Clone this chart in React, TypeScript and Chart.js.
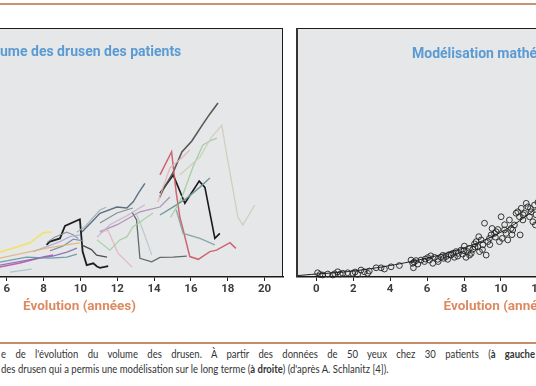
import React, { useEffect, useRef } from 'react';
import { Chart, registerables } from 'chart.js';

Chart.register(...registerables);

// ---------- data ----------
const X_MIN = -1.1;
const X_MAX = 21;
const Y_MIN = 0;
const Y_MAX = 10;
const xTickValues = [0, 2, 4, 6, 8, 10, 12, 14, 16, 18, 20];
const xTickLabels = ['0', '2', '4', '6', '8', '10', '12', '14', '16', '18', '20'];

const leftTitle = 'ume des drusen des patients';
const rightTitle = 'Modélisation mathématique';
const axisTitle = 'Évolution (années)';

type P = [number, number];

// patient trajectories (years, drusen volume in arbitrary units)
const pBlackA: P[] = [[8.16, 1.29], [8.34, 1.42], [8.89, 1.55], [9.16, 2.05], [9.97, 2.32], [10.12, 1.02], [10.34, 0.48], [10.7, 0.55], [10.9, 0.42], [11.06, 0.37], [11.51, 0.44]];
const pBlackB: P[] = [[14.32, 3.36], [15.04, 4.1], [15.67, 2.96], [16.45, 3.85], [16.76, 3.6], [17.3, 1.55], [17.57, 1.75]];
const pDarkGrey: P[] = [[14.3, 3.2], [14.48, 3.49], [15.02, 4.18], [15.51, 5.02], [16.05, 5.46], [16.65, 6.14], [17.03, 6.55], [17.47, 6.99]];
const pRed: P[] = [[14.32, 4.1], [14.95, 5.03], [15.2, 3.4], [15.4, 2.4], [15.58, 1.89], [15.94, 0.82], [16.4, 0.71], [17.03, 1.02], [17.39, 1.08], [18.12, 1.38], [18.44, 1.15]];
const pLightGreen: P[] = [[14.9, 2.4], [15.3, 2.9], [15.56, 3.3], [16.11, 4.42], [16.65, 5.3], [17.14, 5.5], [17.41, 5.58]];
const pBeige: P[] = [[15.4, 4.1], [16.49, 4.82], [17.1, 5.6], [17.68, 6.1], [17.9, 5.1], [18.55, 2.41], [18.82, 2.09], [19.47, 2.89]];
const pTealUp: P[] = [[14.32, 2.49], [15.0, 2.8], [15.78, 3.17], [16.49, 3.61], [17.03, 3.98]];
const pTealDown: P[] = [[15.2, 2.7], [15.58, 1.75], [16.49, 1.55], [17.3, 1.29]];
const pGreyL: P[] = [[12.8, 2.61], [13.05, 2.29], [13.23, 0.75], [13.87, 0.61], [14.32, 0.79], [15.02, 0.8], [15.78, 0.84]];
const pSlate: P[] = [[10.08, 1.81], [10.6, 2.2], [11.06, 2.56], [11.98, 2.81], [12.52, 2.77], [12.87, 3.02], [13.14, 3.36], [13.5, 3.76]];
const pDarkShort: P[] = [[10.06, 1.29], [10.6, 1.1], [10.88, 0.88], [11.44, 0.8]];
const pGreyMid: P[] = [[11.06, 2.17], [11.98, 2.57], [12.85, 2.77]];
const pPinkFall: P[] = [[11.06, 1.77], [11.49, 1.89], [12.04, 0.96], [12.8, 0.4]];
const pGreenMid: P[] = [[10.9, 1.49], [11.6, 1.08], [12.14, 1.49], [12.52, 1.61], [12.85, 2.01], [13.39, 2.29], [13.94, 2.57]];
const pBlueFall: P[] = [[13.0, 2.6], [13.39, 1.89], [13.88, 0.88]];
const pPurpleUp: P[] = [[11.06, 1.82], [12.0, 2.1], [13.23, 2.62], [14.32, 2.81], [14.86, 3.21]];
const pPinkUp: P[] = [[14.2, 3.0], [14.86, 4.38], [15.56, 4.82], [15.94, 5.1]];
const pYellow: P[] = [[4.5, 0.85], [5.63, 1.0], [6.34, 1.16], [7.26, 1.37], [7.69, 1.61], [7.96, 1.77], [8.45, 1.81]];
const pTan: P[] = [[4.5, 0.6], [5.63, 0.76], [8.17, 1.16], [9.25, 1.29], [9.97, 1.37]];
const pMagenta: P[] = [[4.5, 0.3], [5.63, 0.4], [6.72, 0.56], [7.98, 0.8], [8.52, 0.88]];
const pPurple: P[] = [[4.5, 0.4], [5.63, 0.48], [7.42, 0.72], [8.5, 0.84], [9.27, 1.0], [9.81, 1.16]];
const pLightBlue: P[] = [[6.17, 0.2], [7.35, 0.32]];
const pTeal: P[] = [[4.5, 0.5], [5.63, 0.6], [7.08, 0.8], [8.34, 0.76], [9.27, 0.8], [9.81, 0.92]];
const pLavender: P[] = [[7.44, 1.02], [8.17, 1.22], [8.89, 1.42], [9.43, 1.62], [9.97, 1.69]];
const pGreyNine: P[] = [[8.2, 1.4], [8.6, 1.6], [9.25, 1.8], [9.6, 1.7], [9.88, 1.55]];
const pBlueGrey: P[] = [[8.34, 1.05], [9.07, 1.25], [9.61, 1.52], [10.15, 1.45]];
const pLilac: P[] = [[10.9, 1.6], [11.6, 2.1], [12.5, 2.45], [13.5, 2.9]];
const pGreyBlue: P[] = [[9.8, 1.8], [10.24, 2.02], [11.06, 2.69], [11.4, 2.8]];

const patientSeries: { pts: P[]; color: string; w: number }[] = [
  { pts: pBeige, color: 'rgba(205,205,185,0.9)', w: 1.3 },
  { pts: pLightBlue, color: 'rgba(170,192,208,0.9)', w: 1.3 },
  { pts: pTan, color: 'rgba(226,178,112,0.85)', w: 1.3 },
  { pts: pYellow, color: 'rgba(240,226,110,0.95)', w: 1.8 },
  { pts: pTeal, color: 'rgba(100,150,165,0.9)', w: 1.3 },
  { pts: pPurple, color: 'rgba(130,110,175,0.9)', w: 1.3 },
  { pts: pMagenta, color: 'rgba(192,80,176,0.9)', w: 1.5 },
  { pts: pLavender, color: 'rgba(176,168,216,0.9)', w: 1.3 },
  { pts: pGreyNine, color: 'rgba(135,145,155,0.9)', w: 1.2 },
  { pts: pBlueGrey, color: 'rgba(115,140,165,0.9)', w: 1.2 },
  { pts: pLilac, color: 'rgba(200,176,208,0.9)', w: 1.2 },
  { pts: pGreyBlue, color: 'rgba(160,176,184,0.9)', w: 1.2 },
  { pts: pGreenMid, color: 'rgba(160,205,160,0.9)', w: 1.2 },
  { pts: pPinkFall, color: 'rgba(225,178,195,0.9)', w: 1.2 },
  { pts: pBlueFall, color: 'rgba(180,200,205,0.9)', w: 1.2 },
  { pts: pGreyMid, color: 'rgba(120,135,142,0.9)', w: 1.2 },
  { pts: pPurpleUp, color: 'rgba(170,140,175,0.9)', w: 1.3 },
  { pts: pSlate, color: 'rgba(85,105,125,0.95)', w: 1.4 },
  { pts: pDarkShort, color: 'rgba(70,70,70,0.95)', w: 1.3 },
  { pts: pGreyL, color: 'rgba(90,100,100,0.95)', w: 1.3 },
  { pts: pTealDown, color: 'rgba(130,165,162,0.95)', w: 1.3 },
  { pts: pTealUp, color: 'rgba(105,150,148,0.95)', w: 1.4 },
  { pts: pPinkUp, color: 'rgba(230,180,180,0.9)', w: 1.2 },
  { pts: pLightGreen, color: 'rgba(160,205,160,0.95)', w: 1.3 },
  { pts: pRed, color: 'rgba(205,85,100,0.9)', w: 1.5 },
  { pts: pDarkGrey, color: 'rgba(80,80,80,0.95)', w: 1.6 },
  { pts: pBlackA, color: 'rgba(30,30,30,1)', w: 1.8 },
  { pts: pBlackB, color: 'rgba(25,25,25,1)', w: 1.6 },
];

// modelled observations (right panel)
const obsX = [
  0.07, 0.35, 0.62, 0.89, 1.16, 1.43, 1.7, 1.97, 2.24, 2.42, 2.6, 2.78, 2.87, 3.24, 3.51, 3.69, 4.05, 4.5,
  5.13, 5.22, 5.26, 5.4, 5.67, 5.86, 6.04, 6.13, 6.31, 6.4, 6.58, 6.76, 6.85, 7.03, 7.12, 7.3, 7.39, 7.48,
  7.57, 7.66, 7.84, 7.93, 8.02, 8.11, 8.2, 8.29, 8.39, 8.48, 8.57, 8.66, 8.75, 8.8, 8.84, 8.93, 9.02, 9.11,
  9.2, 9.29, 9.38, 9.47, 9.52, 9.65, 9.74, 9.83, 9.92, 10.01, 10.07, 10.19, 10.28, 10.37, 10.46, 10.55, 10.64,
  10.73, 10.82, 10.91, 11.0, 11.04, 11.1, 11.19, 11.28, 11.37, 11.46, 11.55, 11.64, 11.73, 11.82, 11.87,
  5.3, 5.5, 5.9, 6.2, 6.6, 6.9, 7.2, 7.7, 8.0, 8.3, 8.6, 9.0, 9.4, 9.7, 10.2, 10.6, 11.2, 11.6, 11.9, 12.0, 12.2,
  0.2, 1.0, 1.3, 2.1,
];
const obsY = [
  0.17, 0.08, 0.12, 0.08, 0.21, 0.15, 0.17, 0.15, 0.11, 0.28, 0.21, 0.15, 0.24, 0.37, 0.37, 0.32, 0.41, 0.46,
  0.68, 0.55, 0.37, 0.66, 0.68, 0.62, 0.78, 0.68, 0.55, 0.79, 0.71, 0.79, 0.87, 0.82, 0.71, 0.88, 0.95, 0.79,
  1.02, 0.84, 1.08, 0.92, 1.24, 0.79, 1.02, 1.15, 0.95, 1.11, 1.33, 1.42, 1.22, 1.62, 1.02, 1.49, 1.29, 2.16,
  0.88, 1.42, 1.55, 1.69, 1.95, 1.75, 1.82, 1.91, 1.42, 2.42, 1.55, 1.89, 1.75, 1.49, 2.29, 1.95, 1.89,
  2.09, 2.56, 2.62, 2.42, 1.69, 2.76, 2.29, 2.56, 2.96, 2.82, 2.42, 2.62, 2.22, 2.89, 2.09,
  0.6, 0.52, 0.72, 0.85, 0.62, 0.75, 0.9, 0.95, 1.05, 0.88, 1.2, 1.1, 1.3, 1.6, 2.1, 1.7, 2.5, 2.75, 2.5, 3.0, 2.7,
  0.1, 0.13, 0.12, 0.2,
];
// fitted model curve
const modelX = [-1.1, 0, 1, 2, 3, 4, 5, 6, 7, 8, 9, 10, 11, 12, 13];
const modelY = [0.05, 0.12, 0.17, 0.24, 0.34, 0.46, 0.6, 0.76, 0.95, 1.17, 1.45, 1.8, 2.25, 2.8, 3.4];

// ---------- helpers ----------
const GREY = '#e6e7e8';

function makePanelPlugin(sides: { top?: boolean; right?: boolean; left?: boolean }) {
  return {
    id: 'panelBox',
    beforeDraw(chart: any) {
      const { ctx, chartArea: a } = chart;
      ctx.save();
      ctx.fillStyle = GREY;
      ctx.fillRect(a.left, a.top, a.right - a.left, a.bottom - a.top);
      ctx.restore();
    },
    afterDraw(chart: any) {
      const { ctx, chartArea: a } = chart;
      ctx.save();
      ctx.strokeStyle = '#1c1c1c';
      if (sides.top) {
        ctx.lineWidth = 1;
        ctx.beginPath();
        ctx.moveTo(a.left, a.top + 0.5);
        ctx.lineTo(a.right, a.top + 0.5);
        ctx.stroke();
      }
      if (sides.right) {
        ctx.lineWidth = 1;
        ctx.beginPath();
        ctx.moveTo(a.right - 0.5, a.top);
        ctx.lineTo(a.right - 0.5, a.bottom);
        ctx.stroke();
      }
      if (sides.left) {
        ctx.strokeStyle = '#333';
        ctx.lineWidth = 2;
        ctx.beginPath();
        ctx.moveTo(a.left + 1, a.top);
        ctx.lineTo(a.left + 1, a.bottom);
        ctx.stroke();
      }
      ctx.restore();
    },
  };
}

function xScale() {
  return {
    type: 'linear',
    min: X_MIN,
    max: X_MAX,
    afterBuildTicks: (s: any) => {
      s.ticks = xTickValues.map((v) => ({ value: v }));
    },
    afterFit: (s: any) => {
      s.height = 46;
    },
    grid: { drawOnChartArea: false, drawTicks: true, tickLength: 4, color: '#222', lineWidth: 1 },
    border: { display: true, color: '#1a1a1a', width: 1.5 },
    ticks: {
      padding: 1,
      color: '#3d3d3d',
      maxRotation: 0,
      autoSkip: false,
      font: { family: 'Roboto', weight: 'bold', size: 11.5 },
      callback: (v: number) => {
        const i = xTickValues.indexOf(v);
        return i >= 0 ? xTickLabels[i] : '';
      },
    },
    title: {
      display: true,
      text: axisTitle,
      color: '#dc8a62',
      font: { family: 'Roboto', weight: 'bold', size: 13.5 },
      padding: { top: 0, bottom: 8 },
    },
  };
}

const yScale = { type: 'linear', display: false, min: Y_MIN, max: Y_MAX };

function ChartCanvas({ build, left, top, width, height }: any) {
  const ref = useRef<HTMLCanvasElement>(null);
  useEffect(() => {
    const chart = new Chart(ref.current as HTMLCanvasElement, build());
    return () => chart.destroy();
  }, []);
  return (
    <canvas
      ref={ref}
      width={width}
      height={height}
      style={{ position: 'absolute', left, top, width, height, display: 'block' }}
    />
  );
}

function buildLeft() {
  return {
    type: 'line',
    data: {
      datasets: patientSeries.map((s) => ({
        data: s.pts.map(([x, y]) => ({ x, y })),
        borderColor: s.color,
        borderWidth: s.w,
        pointRadius: 0,
        tension: 0,
        fill: false,
      })),
    },
    options: {
      responsive: false,
      animation: false,
      devicePixelRatio: 1,
      layout: { autoPadding: false, padding: { left: 0, right: 1, top: 0, bottom: 0 } },
      plugins: { legend: { display: false }, tooltip: { enabled: false }, title: { display: false } },
      scales: { x: xScale(), y: yScale },
    },
    plugins: [makePanelPlugin({ top: true, right: true })],
  } as any;
}

function buildRight() {
  return {
    type: 'scatter',
    data: {
      datasets: [
        {
          type: 'line',
          data: modelX.map((x, i) => ({ x, y: modelY[i] })),
          borderColor: '#222',
          borderWidth: 1,
          pointRadius: 0,
          tension: 0.3,
          fill: false,
        },
        {
          type: 'scatter',
          data: obsX.map((x, i) => ({ x, y: obsY[i] })),
          pointStyle: 'circle',
          pointRadius: 2.9,
          borderColor: 'rgba(35,35,35,0.9)',
          borderWidth: 1,
          backgroundColor: 'rgba(0,0,0,0)',
          clip: false,
        },
      ],
    },
    options: {
      responsive: false,
      animation: false,
      devicePixelRatio: 1,
      layout: { autoPadding: false, padding: { left: 0, right: 11, top: 0, bottom: 0 } },
      plugins: { legend: { display: false }, tooltip: { enabled: false }, title: { display: false } },
      scales: { x: xScale(), y: yScale },
    },
    plugins: [makePanelPlugin({ top: true, left: true })],
  } as any;
}

export default function App() {
  const titleStyle: React.CSSProperties = {
    position: 'absolute',
    fontFamily: 'Roboto, sans-serif',
    fontWeight: 700,
    fontSize: 14,
    lineHeight: '16px',
    color: '#5b9bd3',
    whiteSpace: 'nowrap',
  };
  const capStyle: React.CSSProperties = {
    position: 'absolute',
    left: 1,
    fontFamily: 'Lato, sans-serif',
    fontSize: 10.8,
    lineHeight: '16px',
    color: '#333',
    whiteSpace: 'nowrap',
    transform: 'scaleX(0.88)',
    transformOrigin: '0 0',
  };
  return (
    <div
      style={{
        position: 'fixed',
        left: 0,
        top: 0,
        width: 536,
        height: 386,
        overflow: 'hidden',
        background: '#fff',
      }}
    >
      <div style={{ position: 'absolute', left: 0, top: 3, width: 536, height: 2, background: '#cf9070' }} />
      <ChartCanvas build={buildLeft} left={-124} top={28} width={408} height={295} />
      <ChartCanvas build={buildRight} left={296} top={28} width={419} height={295} />
      <div style={{ ...titleStyle, left: 0, top: 43 }}>{leftTitle}</div>
      <div style={{ ...titleStyle, left: 412, top: 45 }}>{rightTitle}</div>
      <div style={{ position: 'absolute', left: 0, top: 342, width: 536, height: 2, background: '#c98a68' }} />
      <div style={{ ...capStyle, top: 346, wordSpacing: 7.9 }}>
        e de l'évolution du volume des drusen. À partir des données de 50 yeux chez 30 patients (<b>à gauche</b>
      </div>
      <div style={{ ...capStyle, top: 361 }}>
        des drusen qui a permis une modélisation sur le long terme (<b>à droite</b>) (d'après A. Schlanitz [4]).
      </div>
    </div>
  );
}
